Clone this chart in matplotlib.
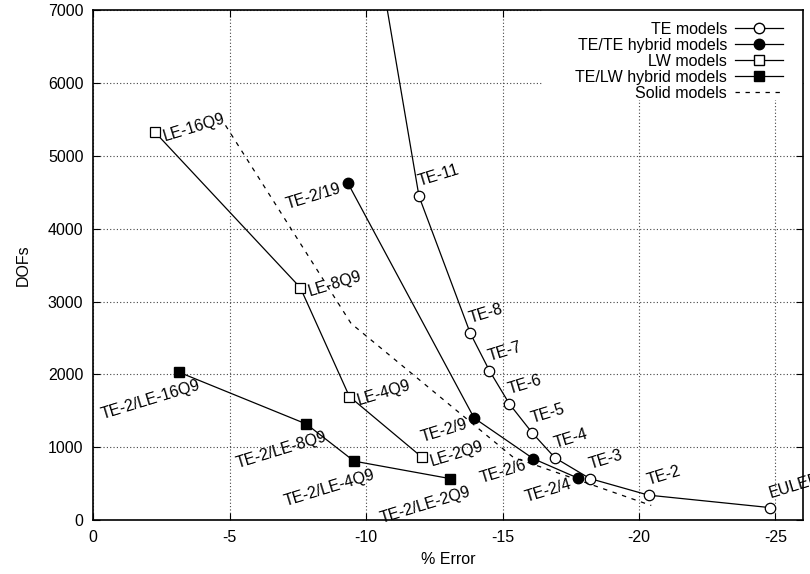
import matplotlib
matplotlib.use("Agg")
import matplotlib.pyplot as plt
from matplotlib.lines import Line2D
from matplotlib.patches import Rectangle

plt.rcParams['font.family'] = ['Liberation Sans', 'DejaVu Sans']
plt.rcParams['axes.unicode_minus'] = False

# TE models
te_names = ['EULER', 'TE-2', 'TE-3', 'TE-4', 'TE-5', 'TE-6', 'TE-7', 'TE-8', 'TE-11', '']
te_err = [-24.8, -20.35, -18.2, -16.92, -16.09, -15.25, -14.52, -13.82, -11.94, -10.44]
te_dofs = [171, 342, 570, 855, 1197, 1596, 2052, 2565, 4446, 7752]

# TE/TE hybrid models
tete_names = ['TE-2/4', 'TE-2/6', 'TE-2/9', 'TE-2/19']
tete_err = [-17.78, -16.13, -13.96, -9.33]
tete_dofs = [573, 842, 1401, 4630]

# LW models
lw_names = ['LE-2Q9', 'LE-4Q9', 'LE-8Q9', 'LE-16Q9']
lw_err = [-12.06, -9.39, -7.59, -2.27]
lw_dofs = [859, 1696, 3192, 5325]

# TE/LW hybrid models
telw_names = ['TE-2/LE-2Q9', 'TE-2/LE-4Q9', 'TE-2/LE-8Q9', 'TE-2/LE-16Q9']
telw_err = [-13.08, -9.56, -7.81, -3.16]
telw_dofs = [569, 809, 1319, 2028]

# Solid models
solid_err = [-4.85, -9.45, -15.4, -20.45]
solid_dofs = [5420, 2700, 860, 200]

xticks = [0, -5, -10, -15, -20, -25]
yticks = [0, 1000, 2000, 3000, 4000, 5000, 6000, 7000]

fig = plt.figure(figsize=(8.1, 5.74), dpi=100)
ax = fig.add_subplot(111)
fig.subplots_adjust(left=0.115, right=0.991, top=0.982, bottom=0.094)

lw = 0.9
ms = 7.5
ax.plot(te_err, te_dofs, '-o', color='black', lw=lw, ms=ms, mfc='white', mec='black', mew=0.9)
ax.plot(tete_err, tete_dofs, '-o', color='black', lw=lw, ms=ms, mfc='black', mec='black')
ax.plot(lw_err, lw_dofs, '-s', color='black', lw=lw, ms=ms, mfc='white', mec='black', mew=0.9)
ax.plot(telw_err, telw_dofs, '-s', color='black', lw=lw, ms=ms, mfc='black', mec='black')
ax.plot(solid_err, solid_dofs, color='black', lw=lw, dashes=(3.5, 4.5))

rot = 17
fs = 11.5


def put_labels(names, xs, ys, dx, dy, ha, va):
    for n, x, y in zip(names, xs, ys):
        if not n:
            continue
        t = ax.annotate(n, (x, y), xytext=(dx, dy), textcoords='offset points',
                        ha=ha, va=va, rotation=rot, rotation_mode='anchor', fontsize=fs)
        t.set_clip_on(True)


put_labels(te_names, te_err, te_dofs, 1, 5, 'left', 'bottom')
put_labels(tete_names, tete_err, tete_dofs, -5, -4, 'right', 'center')
put_labels(lw_names, lw_err, lw_dofs, 6, -3, 'left', 'center')
put_labels(telw_names, telw_err, telw_dofs, 13, -4, 'right', 'top')

ax.set_xlim(0, -26)
ax.set_ylim(0, 7000)
ax.set_xticks(xticks)
ax.set_yticks(yticks)
ax.tick_params(direction='in', top=True, right=True, length=5, labelsize=fs)
ax.tick_params(axis='x', pad=7)
ax.tick_params(axis='y', pad=7)
ax.grid(True, linestyle=(0, (1, 2)), color='#444444', lw=0.8)
ax.set_axisbelow(True)
for s in ax.spines.values():
    s.set_linewidth(1.2)

ax.set_xlabel('% Error', fontsize=fs, labelpad=5)
ax.set_ylabel('DOFs', fontsize=fs, labelpad=12)

# white key area hides the grid behind the legend
ax.add_patch(Rectangle((0.634, 0.825), 0.366, 0.175, transform=ax.transAxes,
                       facecolor='white', edgecolor='none', zorder=1))

handles = [
    Line2D([], [], color='black', lw=lw, marker='o', ms=ms, mfc='white', mec='black'),
    Line2D([], [], color='black', lw=lw, marker='o', ms=ms, mfc='black', mec='black'),
    Line2D([], [], color='black', lw=lw, marker='s', ms=ms, mfc='white', mec='black'),
    Line2D([], [], color='black', lw=lw, marker='s', ms=ms, mfc='black', mec='black'),
    Line2D([], [], color='black', lw=lw, dashes=(3.5, 4.5)),
]
labels = ['TE models', 'TE/TE hybrid models', 'LW models', 'TE/LW hybrid models', 'Solid models']
leg = ax.legend(handles, labels, loc='upper right', bbox_to_anchor=(0.972, 0.977),
                markerfirst=False, fontsize=fs, handlelength=3.0, handletextpad=0.5,
                labelspacing=0.06, borderpad=0, borderaxespad=0, frameon=False)

fig.savefig('out.png', dpi=100)
